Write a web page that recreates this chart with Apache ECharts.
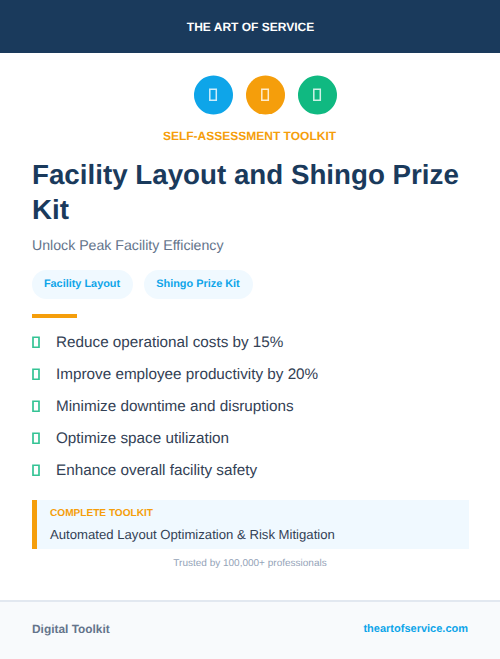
<!DOCTYPE html>
<html><head><meta charset="utf-8">
<style>html,body{margin:0;padding:0;background:#fff}#c{width:500px;height:659px}svg text{text-rendering:geometricPrecision}</style>
<script src="https://cdn.jsdelivr.net/npm/echarts@6/dist/echarts.min.js"></script>
</head><body><div id="c"></div>
<script>
const brand = 'THE ART OF SERVICE';
const eyebrow = 'SELF-ASSESSMENT TOOLKIT';
const titleLines = ['Facility Layout and Shingo Prize', 'Kit'];
const subtitle = 'Unlock Peak Facility Efficiency';
const tags = ['Facility Layout', 'Shingo Prize Kit'];
const bullets = ['Reduce operational costs by 15%','Improve employee productivity by 20%','Minimize downtime and disruptions','Optimize space utilization','Enhance overall facility safety'];
const calloutHead = 'COMPLETE TOOLKIT';
const calloutBody = 'Automated Layout Optimization & Risk Mitigation';
const trust = 'Trusted by 100,000+ professionals';
const footerLeft = 'Digital Toolkit';
const footerRight = 'theartofservice.com';
const iconColors = ['#0ea5e9','#f59e0b','#10b981'];
const F = '"Liberation Sans", sans-serif';
const g = [];
const rect=(x,y,w,h,fill,r)=>g.push({type:'rect',shape:{x,y,width:w,height:h,r:r||0},style:{fill}});
const hollow=(x,y,w,h,stroke,lw,op)=>g.push({type:'rect',shape:{x,y,width:w,height:h},style:{fill:'none',stroke,lineWidth:lw,opacity:op==null?1:op}});
const text=(x,y,t,size,weight,fill,align)=>g.push({type:'text',x,y,style:{text:t,font:`${weight} ${size}px ${F}`,fill,align:align||'left',verticalAlign:'middle'}});
rect(0,0,500,53,'#1a3a5c');
text(250.5,27,brand,12,700,'#ffffff','center');
iconColors.forEach((c,i)=>{const cx=213.5+52*i;
 g.push({type:'circle',shape:{cx,cy:95,r:19.5},style:{fill:c}});
 hollow(cx-3.7,89.3,6.5,11,'#ffffff',1.5,0.8);});
text(249.5,135.5,eyebrow,12,700,'#f59e0b','center');
titleLines.forEach((t,i)=>text(32,174+35*i,t,27.74,700,'#1a3a5c'));
text(32,245,subtitle,14.15,400,'#64748b');
rect(32,270,101,29,'#f0f9ff',14.5);
rect(144,270,109,29,'#f0f9ff',14.5);
text(82,283.5,tags[0],10.9,700,'#0ea5e9','center');
text(198,283.5,tags[1],10.9,700,'#0ea5e9','center');
rect(32,314,45,4,'#f59e0b');
bullets.forEach((t,i)=>{const y=342+32*i;
 hollow(33,y-4.75,6,10,'#10b981',1.7,0.85);
 text(56,y,t,15.28,400,'#334155');});
rect(32,500,437,49,'#f0f9ff');
rect(32,500,5,49,'#f59e0b');
text(50,513,calloutHead,10.1,700,'#f59e0b');
text(50,534.3,calloutBody,13.15,400,'#334155');
text(250,563,trust,10,400,'#94a3b8','center');
rect(0,600,500,59,'#f8fafc');
rect(0,600,500,2,'#e2e8f0');
text(32,628.7,footerLeft,11.9,700,'#64748b');
text(468,628.5,footerRight,11,700,'#0ea5e9','right');
const chart=echarts.init(document.getElementById('c'),null,{width:500,height:659,renderer:'svg'});
chart.setOption({animation:false,graphic:{elements:g}});
</script></body></html>
